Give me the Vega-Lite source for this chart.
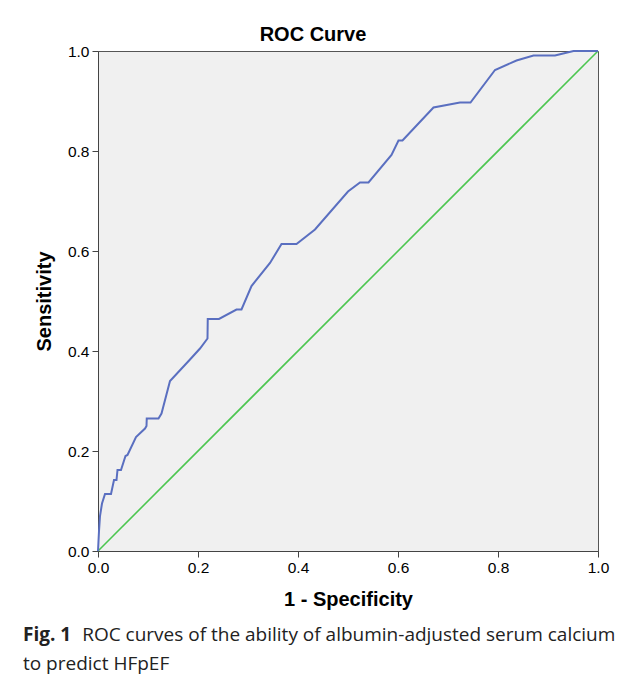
{
  "$schema": "https://vega.github.io/schema/vega-lite/v6.json",
  "background": "white",
  "padding": {"left": 22, "top": 24, "right": 10, "bottom": 5},
  "title": {
    "text": "Fig. 1",
    "subtitle": ["\u200b\u00a0\u00a0\u00a0\u00a0\u00a0\u00a0\u00a0\u00a0\u00a0\u00a0\u00a0\u00a0ROC curves of the ability of albumin-adjusted serum calcium", "to predict HFpEF"],
    "orient": "bottom",
    "anchor": "start",
    "frame": "bounds",
    "dx": -11,
    "offset": 16,
    "font": "Open Sans",
    "fontSize": 19,
    "fontWeight": "bold",
    "color": "#222",
    "subtitleFont": "Open Sans",
    "subtitleFontSize": 19,
    "subtitleFontWeight": "normal",
    "subtitleColor": "#222",
    "subtitlePadding": -19,
    "subtitleLineHeight": 29
  },
  "datasets": {
    "roc": [
      {"fpr": 0, "tpr": 0},
      {"fpr": 0.002, "tpr": 0.04},
      {"fpr": 0.004, "tpr": 0.07},
      {"fpr": 0.008, "tpr": 0.095},
      {"fpr": 0.014, "tpr": 0.114},
      {"fpr": 0.026, "tpr": 0.114},
      {"fpr": 0.032, "tpr": 0.142},
      {"fpr": 0.037, "tpr": 0.142},
      {"fpr": 0.039, "tpr": 0.162},
      {"fpr": 0.046, "tpr": 0.162},
      {"fpr": 0.055, "tpr": 0.19},
      {"fpr": 0.059, "tpr": 0.192},
      {"fpr": 0.076, "tpr": 0.228},
      {"fpr": 0.094, "tpr": 0.245},
      {"fpr": 0.097, "tpr": 0.25},
      {"fpr": 0.0975, "tpr": 0.265},
      {"fpr": 0.121, "tpr": 0.265},
      {"fpr": 0.127, "tpr": 0.275},
      {"fpr": 0.144, "tpr": 0.34},
      {"fpr": 0.184, "tpr": 0.383},
      {"fpr": 0.204, "tpr": 0.405},
      {"fpr": 0.219, "tpr": 0.425},
      {"fpr": 0.2195, "tpr": 0.464},
      {"fpr": 0.242, "tpr": 0.464},
      {"fpr": 0.277, "tpr": 0.483},
      {"fpr": 0.287, "tpr": 0.483},
      {"fpr": 0.307, "tpr": 0.53},
      {"fpr": 0.344, "tpr": 0.576},
      {"fpr": 0.367, "tpr": 0.614},
      {"fpr": 0.397, "tpr": 0.614},
      {"fpr": 0.434, "tpr": 0.643},
      {"fpr": 0.5, "tpr": 0.719},
      {"fpr": 0.524, "tpr": 0.737},
      {"fpr": 0.541, "tpr": 0.737},
      {"fpr": 0.587, "tpr": 0.792},
      {"fpr": 0.601, "tpr": 0.821},
      {"fpr": 0.609, "tpr": 0.821},
      {"fpr": 0.671, "tpr": 0.887},
      {"fpr": 0.724, "tpr": 0.897},
      {"fpr": 0.745, "tpr": 0.897},
      {"fpr": 0.794, "tpr": 0.962},
      {"fpr": 0.837, "tpr": 0.981},
      {"fpr": 0.871, "tpr": 0.991},
      {"fpr": 0.914, "tpr": 0.991},
      {"fpr": 0.951, "tpr": 1.0},
      {"fpr": 1.0, "tpr": 1.0}
    ],
    "ref": [
      {"fpr": 0, "tpr": 0},
      {"fpr": 1, "tpr": 1}
    ]
  },
  "vconcat": [
    {
      "width": 500,
      "height": 500,
      "title": {
        "text": "ROC Curve",
        "dx": -35,
        "offset": -1,
        "font": "Liberation Sans",
        "fontSize": 20,
        "fontWeight": "bold",
        "color": "#000"
      },
      "layer": [
        {
          "data": {"name": "ref"},
          "mark": {"type": "line", "color": "#4CC650", "strokeWidth": 1.6},
          "encoding": {
            "x": {"field": "fpr", "type": "quantitative", "scale": {"domain": [0, 1], "nice": false},
              "axis": {"title": "1 - Specificity", "values": [0, 0.2, 0.4, 0.6, 0.8, 1.0], "format": ".1f", "labelFlush": false, "titlePadding": 14}},
            "y": {"field": "tpr", "type": "quantitative", "scale": {"domain": [0, 1], "nice": false},
              "axis": {"title": "Sensitivity", "values": [0, 0.2, 0.4, 0.6, 0.8, 1.0], "format": ".1f", "titlePadding": 13}}
          }
        },
        {
          "data": {"name": "roc"},
          "mark": {"type": "line", "color": "#5A6FC0", "strokeWidth": 2},
          "encoding": {
            "x": {"field": "fpr", "type": "quantitative"},
            "y": {"field": "tpr", "type": "quantitative"}
          }
        }
      ]
    }
  ],
  "config": {
    "view": {"stroke": "#555", "fill": "#F0F0F0"},
    "axis": {
      "grid": false,
      "domainColor": "#444",
      "tickColor": "#444",
      "tickSize": 6,
      "labelFont": "Liberation Sans",
      "labelFontSize": 15.5,
      "labelColor": "#000",
      "labelPadding": 3,
      "titleFont": "Liberation Sans",
      "titleFontSize": 20,
      "titleFontWeight": "bold",
      "titleColor": "#000"
    }
  }
}
